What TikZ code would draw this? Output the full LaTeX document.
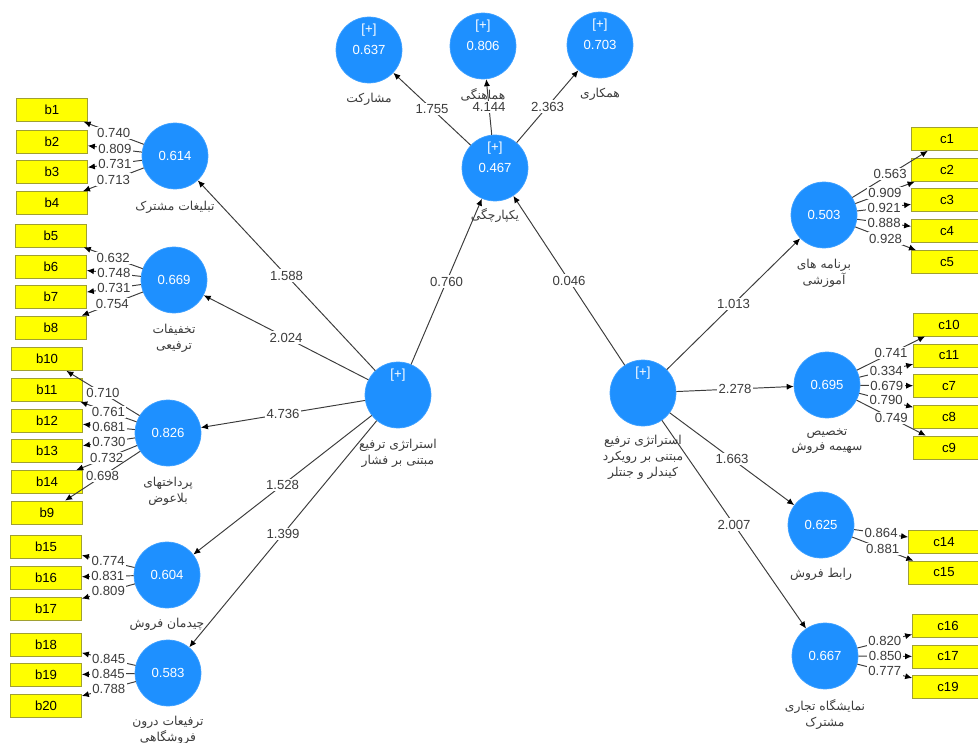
\documentclass[tikz,border=0pt]{standalone}
\usepackage{fontspec}
\setmainfont{Liberation Sans}
\newfontfamily\persianfont[Script=Arabic]{DejaVu Sans}
\TeXXeTstate=1
\usetikzlibrary{arrows.meta, positioning}
\definecolor{lvblue}{RGB}{30,144,255}
\definecolor{mvyellow}{RGB}{255,255,0}
\definecolor{mvborder}{RGB}{160,160,50}
\definecolor{pathgray}{RGB}{60,60,60}
\newcommand{\fatxt}[1]{{\persianfont\beginR #1\endR}}

\begin{document}
\begin{tikzpicture}[
  x=0.02cm, y=-0.02cm,
  lv/.style={circle, fill=lvblue, draw=lvblue!85!white, minimum size=1.32cm,
             inner sep=0pt, text=white, font=\fontsize{7.5}{9}\selectfont},
  mv/.style={draw=mvborder, fill=mvyellow, minimum width=1.42cm,
             minimum height=0.46cm, inner sep=0pt, font=\fontsize{7.5}{9}\selectfont},
  plus/.style={text=white, inner sep=0pt, font=\fontsize{7.5}{9}\selectfont},
  lab/.style={text=pathgray, align=center, inner sep=1pt,
              font=\fontsize{7}{9}\selectfont},
  coef/.style={fill=white, inner sep=0.8pt, text=pathgray, font=\fontsize{7.5}{9}\selectfont},
  conn/.style={draw=pathgray, line width=0.55pt, -{Latex[length=4pt, width=3.5pt, color=black]}},
  every node/.style={font=\fontsize{7.5}{9}\selectfont}
]
  \useasboundingbox (0,0) rectangle (978,743);
  \clip (0,0) rectangle (978,743);

  % second order
  \node[lv] (push) at (398,395) {};
  \node[plus] (pushp) at (398,375) {[+]};
  \node[lab, below=1.8mm of push] (pushl) {\fatxt{استراتژی ترفیع}\\\fatxt{مبتنی بر فشار}};
  \node[lv] (kotler) at (643,393) {};
  \node[plus] (kotlerp) at (643,373) {[+]};
  \node[lab, below=1.4mm of kotler] (kotlerl) {\fatxt{استراتژی ترفیع}\\\fatxt{مبتنی بر رویکرد}\\\fatxt{کیندلر و جنتلر}};
  \node[lv] (integ) at (495,168) {0.467};
  \node[plus] (integp) at (495,148) {[+]};
  \node[lab, below=1.1mm of integ] (integl) {\fatxt{یکپارچگی}};

  % top
  \node[lv] (part) at (369,50) {0.637};
  \node[plus] (partp) at (369,30) {[+]};
  \node[lab, below=1.5mm of part] (partl) {\fatxt{مشارکت}};
  \node[lv] (harm) at (483,46) {0.806};
  \node[plus] (harmp) at (483,26) {[+]};
  \node[lab, below=1.5mm of harm] (harml) {\fatxt{هماهنگی}};
  \node[lv] (coop) at (600,45) {0.703};
  \node[plus] (coopp) at (600,25) {[+]};
  \node[lab, below=1.5mm of coop] (coopl) {\fatxt{همکاری}};

  % left constructs
  \node[lv] (adv) at (175,156) {0.614};
  \node[lab, below=2.0mm of adv] (advl) {\fatxt{تبلیغات مشترک}};
  \node[lv] (disc) at (174,280) {0.669};
  \node[lab, below=1.8mm of disc] (discl) {\fatxt{تخفیفات}\\\fatxt{ترفیعی}};
  \node[lv] (grant) at (168,433) {0.826};
  \node[lab, below=1.8mm of grant] (grantl) {\fatxt{پرداختهای}\\\fatxt{بلاعوض}};
  \node[lv] (disp) at (167,575) {0.604};
  \node[lab, below=1.5mm of disp] (displ) {\fatxt{چیدمان فروش}};
  \node[lv] (instore) at (168,673) {0.583};
  \node[lab, below=1.6mm of instore] (instorel) {\fatxt{ترفیعات درون}\\\fatxt{فروشگاهی}};

  % right constructs
  \node[lv] (train) at (824,215) {0.503};
  \node[lab, below=1.8mm of train] (trainl) {\fatxt{برنامه های}\\\fatxt{آموزشی}};
  \node[lv] (quota) at (827,385) {0.695};
  \node[lab, below=1.6mm of quota] (quotal) {\fatxt{تخصیص}\\\fatxt{سهیمه فروش}};
  \node[lv] (liaison) at (821,525) {0.625};
  \node[lab, below=1.5mm of liaison] (liaisonl) {\fatxt{رابط فروش}};
  \node[lv] (fair) at (825,656) {0.667};
  \node[lab, below=1.6mm of fair] (fairl) {\fatxt{نمایشگاه تجاری}\\\fatxt{مشترک}};

  % indicators b
  \node[mv] (b1) at (52,110) {b1};
  \node[mv] (b2) at (52,141.5) {b2};
  \node[mv] (b3) at (52,172) {b3};
  \node[mv] (b4) at (52,203) {b4};
  \node[mv] (b5) at (51,235.5) {b5};
  \node[mv] (b6) at (51,266.5) {b6};
  \node[mv] (b7) at (51,297) {b7};
  \node[mv] (b8) at (51,327.5) {b8};
  \node[mv] (b10) at (47,359) {b10};
  \node[mv] (b11) at (47,390) {b11};
  \node[mv] (b12) at (47,420.5) {b12};
  \node[mv] (b13) at (47,451) {b13};
  \node[mv] (b14) at (47,482) {b14};
  \node[mv] (b9) at (47,512.5) {b9};
  \node[mv] (b15) at (46,547) {b15};
  \node[mv] (b16) at (46,577.5) {b16};
  \node[mv] (b17) at (46,608.5) {b17};
  \node[mv] (b18) at (46,644.5) {b18};
  \node[mv] (b19) at (46,675) {b19};
  \node[mv] (b20) at (46,705.5) {b20};

  % indicators c
  \node[mv] (c1) at (947,139) {c1};
  \node[mv] (c2) at (947,170) {c2};
  \node[mv] (c3) at (947,200) {c3};
  \node[mv] (c4) at (947,231) {c4};
  \node[mv] (c5) at (947,262) {c5};
  \node[mv] (c10) at (949,324.5) {c10};
  \node[mv] (c11) at (949,355.5) {c11};
  \node[mv] (c7) at (949,386) {c7};
  \node[mv] (c8) at (949,416.5) {c8};
  \node[mv] (c9) at (949,447.5) {c9};
  \node[mv] (c14) at (944,542) {c14};
  \node[mv] (c15) at (944,572.5) {c15};
  \node[mv] (c16) at (948,625.5) {c16};
  \node[mv] (c17) at (948,656.5) {c17};
  \node[mv] (c19) at (948,687) {c19};

  % paths
  \draw[conn] (push) -- node[coef] {1.588} (adv);
  \draw[conn] (push) -- node[coef] {2.024} (disc);
  \draw[conn] (push) -- node[coef] {4.736} (grant);
  \draw[conn] (push) -- node[coef] {1.528} (disp);
  \draw[conn] (push) -- node[coef] {1.399} (instore);
  \draw[conn] (push) -- node[coef] {0.760} (integ);
  \draw[conn] (kotler) -- node[coef] {0.046} (integ);
  \draw[conn] (kotler) -- node[coef] {1.013} (train);
  \draw[conn] (kotler) -- node[coef] {2.278} (quota);
  \draw[conn] (kotler) -- node[coef] {1.663} (liaison);
  \draw[conn] (kotler) -- node[coef] {2.007} (fair);
  \draw[conn] (integ) -- node[coef] {1.755} (part);
  \draw[conn] (integ) -- node[coef] {4.144} (harm);
  \draw[conn] (integ) -- node[coef] {2.363} (coop);

  % loadings left
  \draw[conn] (adv) -- node[coef] {0.740} (b1);
  \draw[conn] (adv) -- node[coef] {0.809} (b2);
  \draw[conn] (adv) -- node[coef] {0.731} (b3);
  \draw[conn] (adv) -- node[coef] {0.713} (b4);
  \draw[conn] (disc) -- node[coef] {0.632} (b5);
  \draw[conn] (disc) -- node[coef] {0.748} (b6);
  \draw[conn] (disc) -- node[coef] {0.731} (b7);
  \draw[conn] (disc) -- node[coef] {0.754} (b8);
  \draw[conn] (grant) -- node[coef] {0.710} (b10);
  \draw[conn] (grant) -- node[coef] {0.761} (b11);
  \draw[conn] (grant) -- node[coef] {0.681} (b12);
  \draw[conn] (grant) -- node[coef] {0.730} (b13);
  \draw[conn] (grant) -- node[coef] {0.732} (b14);
  \draw[conn] (grant) -- node[coef] {0.698} (b9);
  \draw[conn] (disp) -- node[coef] {0.774} (b15);
  \draw[conn] (disp) -- node[coef] {0.831} (b16);
  \draw[conn] (disp) -- node[coef] {0.809} (b17);
  \draw[conn] (instore) -- node[coef] {0.845} (b18);
  \draw[conn] (instore) -- node[coef] {0.845} (b19);
  \draw[conn] (instore) -- node[coef] {0.788} (b20);

  % loadings right
  \draw[conn] (train) -- node[coef] {0.563} (c1);
  \draw[conn] (train) -- node[coef] {0.909} (c2);
  \draw[conn] (train) -- node[coef] {0.921} (c3);
  \draw[conn] (train) -- node[coef] {0.888} (c4);
  \draw[conn] (train) -- node[coef] {0.928} (c5);
  \draw[conn] (quota) -- node[coef] {0.741} (c10);
  \draw[conn] (quota) -- node[coef] {0.334} (c11);
  \draw[conn] (quota) -- node[coef] {0.679} (c7);
  \draw[conn] (quota) -- node[coef] {0.790} (c8);
  \draw[conn] (quota) -- node[coef] {0.749} (c9);
  \draw[conn] (liaison) -- node[coef] {0.864} (c14);
  \draw[conn] (liaison) -- node[coef] {0.881} (c15);
  \draw[conn] (fair) -- node[coef] {0.820} (c16);
  \draw[conn] (fair) -- node[coef] {0.850} (c17);
  \draw[conn] (fair) -- node[coef] {0.777} (c19);
\end{tikzpicture}
\end{document}
